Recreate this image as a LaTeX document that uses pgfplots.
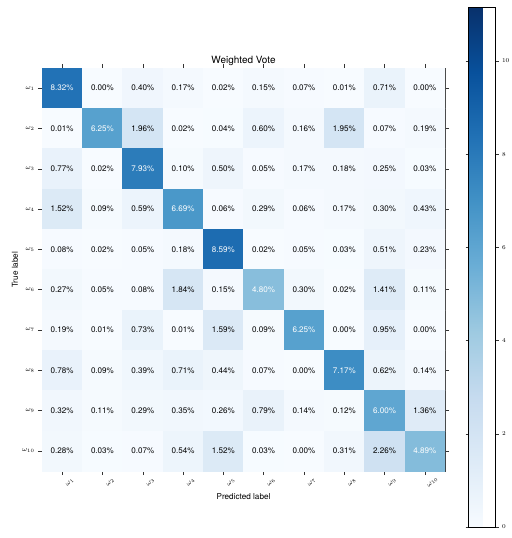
\documentclass[border=0pt]{standalone}
\usepackage{pgfplots}
\pgfplotsset{compat=1.18}
\usepackage{fontspec}
\setmainfont{TeX Gyre Heros}
\pgfplotsset{colormap={Blues}{rgb255=(247,251,255) rgb255=(222,235,247) rgb255=(198,219,239) rgb255=(158,202,225) rgb255=(107,174,214) rgb255=(66,146,198) rgb255=(33,113,181) rgb255=(8,81,156) rgb255=(8,48,107)}}
\pgfplotstableread{
x y c
0 0 8.32
1 0 0.00
2 0 0.40
3 0 0.17
4 0 0.02
5 0 0.15
6 0 0.07
7 0 0.01
8 0 0.71
9 0 0.00
0 1 0.01
1 1 6.25
2 1 1.96
3 1 0.02
4 1 0.04
5 1 0.60
6 1 0.16
7 1 1.95
8 1 0.07
9 1 0.19
0 2 0.77
1 2 0.02
2 2 7.93
3 2 0.10
4 2 0.50
5 2 0.05
6 2 0.17
7 2 0.18
8 2 0.25
9 2 0.03
0 3 1.52
1 3 0.09
2 3 0.59
3 3 6.69
4 3 0.06
5 3 0.29
6 3 0.06
7 3 0.17
8 3 0.30
9 3 0.43
0 4 0.08
1 4 0.02
2 4 0.05
3 4 0.18
4 4 8.59
5 4 0.02
6 4 0.05
7 4 0.03
8 4 0.51
9 4 0.23
0 5 0.27
1 5 0.05
2 5 0.08
3 5 1.84
4 5 0.15
5 5 4.80
6 5 0.30
7 5 0.02
8 5 1.41
9 5 0.11
0 6 0.19
1 6 0.01
2 6 0.73
3 6 0.01
4 6 1.59
5 6 0.09
6 6 6.25
7 6 0.00
8 6 0.95
9 6 0.00
0 7 0.78
1 7 0.09
2 7 0.39
3 7 0.71
4 7 0.44
5 7 0.07
6 7 0.00
7 7 7.17
8 7 0.62
9 7 0.14
0 8 0.32
1 8 0.11
2 8 0.29
3 8 0.35
4 8 0.26
5 8 0.79
6 8 0.14
7 8 0.12
8 8 6.00
9 8 1.36
0 9 0.28
1 9 0.03
2 9 0.07
3 9 0.54
4 9 1.52
5 9 0.03
6 9 0.00
7 9 0.31
8 9 2.26
9 9 4.89
}\cm
\pgfplotstableread{
x y l
0 0 8.32
1 1 6.25
2 2 7.93
3 3 6.69
4 4 8.59
5 5 4.80
6 6 6.25
7 7 7.17
8 8 6.00
9 9 4.89
}\diag
\pgfplotstableread{
x y l
1 0 0.00
2 0 0.40
3 0 0.17
4 0 0.02
5 0 0.15
6 0 0.07
7 0 0.01
8 0 0.71
9 0 0.00
0 1 0.01
2 1 1.96
3 1 0.02
4 1 0.04
5 1 0.60
6 1 0.16
7 1 1.95
8 1 0.07
9 1 0.19
0 2 0.77
1 2 0.02
3 2 0.10
4 2 0.50
5 2 0.05
6 2 0.17
7 2 0.18
8 2 0.25
9 2 0.03
0 3 1.52
1 3 0.09
2 3 0.59
4 3 0.06
5 3 0.29
6 3 0.06
7 3 0.17
8 3 0.30
9 3 0.43
0 4 0.08
1 4 0.02
2 4 0.05
3 4 0.18
5 4 0.02
6 4 0.05
7 4 0.03
8 4 0.51
9 4 0.23
0 5 0.27
1 5 0.05
2 5 0.08
3 5 1.84
4 5 0.15
6 5 0.30
7 5 0.02
8 5 1.41
9 5 0.11
0 6 0.19
1 6 0.01
2 6 0.73
3 6 0.01
4 6 1.59
5 6 0.09
7 6 0.00
8 6 0.95
9 6 0.00
0 7 0.78
1 7 0.09
2 7 0.39
3 7 0.71
4 7 0.44
5 7 0.07
6 7 0.00
8 7 0.62
9 7 0.14
0 8 0.32
1 8 0.11
2 8 0.29
3 8 0.35
4 8 0.26
5 8 0.79
6 8 0.14
7 8 0.12
9 8 1.36
0 9 0.28
1 9 0.03
2 9 0.07
3 9 0.54
4 9 1.52
5 9 0.03
6 9 0.00
7 9 0.31
8 9 2.26
}\offd
\begin{document}
\begin{tikzpicture}
\useasboundingbox (0,0) rectangle (512bp,538bp);
\begin{axis}[
  at={(42bp,67bp)}, anchor=south west,
  width=403bp, height=403bp, scale only axis,
  xmin=-0.5, xmax=9.5, ymin=-0.5, ymax=9.5,
  y dir=reverse, enlargelimits=false,
  colormap name=Blues,
  point meta min=0, point meta max=11.16,
  tick align=outside, major tick length=4bp,
  xtick={0,...,9}, ytick={0,...,9},
  xticklabels={$\omega_{1}$,$\omega_{2}$,$\omega_{3}$,$\omega_{4}$,$\omega_{5}$,$\omega_{6}$,$\omega_{7}$,$\omega_{8}$,$\omega_{9}$,$\omega_{10}$},
  yticklabels={$\omega_{1}$,$\omega_{2}$,$\omega_{3}$,$\omega_{4}$,$\omega_{5}$,$\omega_{6}$,$\omega_{7}$,$\omega_{8}$,$\omega_{9}$,$\omega_{10}$},
  x tick label style={font=\fontsize{7}{8}\selectfont, rotate=45, anchor=center, yshift=-11bp},
  y tick label style={font=\fontsize{7}{8}\selectfont},
  title={Weighted Vote},
  title style={font=\fontsize{10}{12}\selectfont, yshift=-7bp},
  xlabel={Predicted label}, ylabel={True label},
  label style={font=\fontsize{8.2}{10}\selectfont},
  xlabel style={at={(axis description cs:0.5,0)}, anchor=center, yshift=-26bp},
  ylabel style={at={(axis description cs:-0.067,0.5)}, anchor=center},
  axis line style={black!80},
  every tick/.style={black!80},
  colorbar,
  colorbar style={
    at={(parent axis.north east)}, anchor=north west,
    xshift=15bp, yshift=61bp,
    width=27bp, height=520bp, scale only axis,
    y dir=normal,
    ytick={0,2,4,6,8,10},
    tick align=outside, major tick length=3bp,
    yticklabel style={font=\fontsize{6}{7}\selectfont},
  },
]
\addplot[matrix plot*, mesh/cols=10, point meta=explicit] table[meta=c] {\cm};
\addplot[only marks, mark=none, point meta=explicit symbolic,
  nodes near coords={\pgfplotspointmeta\%}, nodes near coords align=center,
  every node near coord/.append style={font=\fontsize{8.1}{9}\selectfont, text=white, anchor=center}]
  table[meta=l] {\diag};
\addplot[only marks, mark=none, point meta=explicit symbolic,
  nodes near coords={\pgfplotspointmeta\%}, nodes near coords align=center,
  every node near coord/.append style={font=\fontsize{8.1}{9}\selectfont, text=black, anchor=center}]
  table[meta=l] {\offd};
\end{axis}
\end{tikzpicture}
\end{document}
